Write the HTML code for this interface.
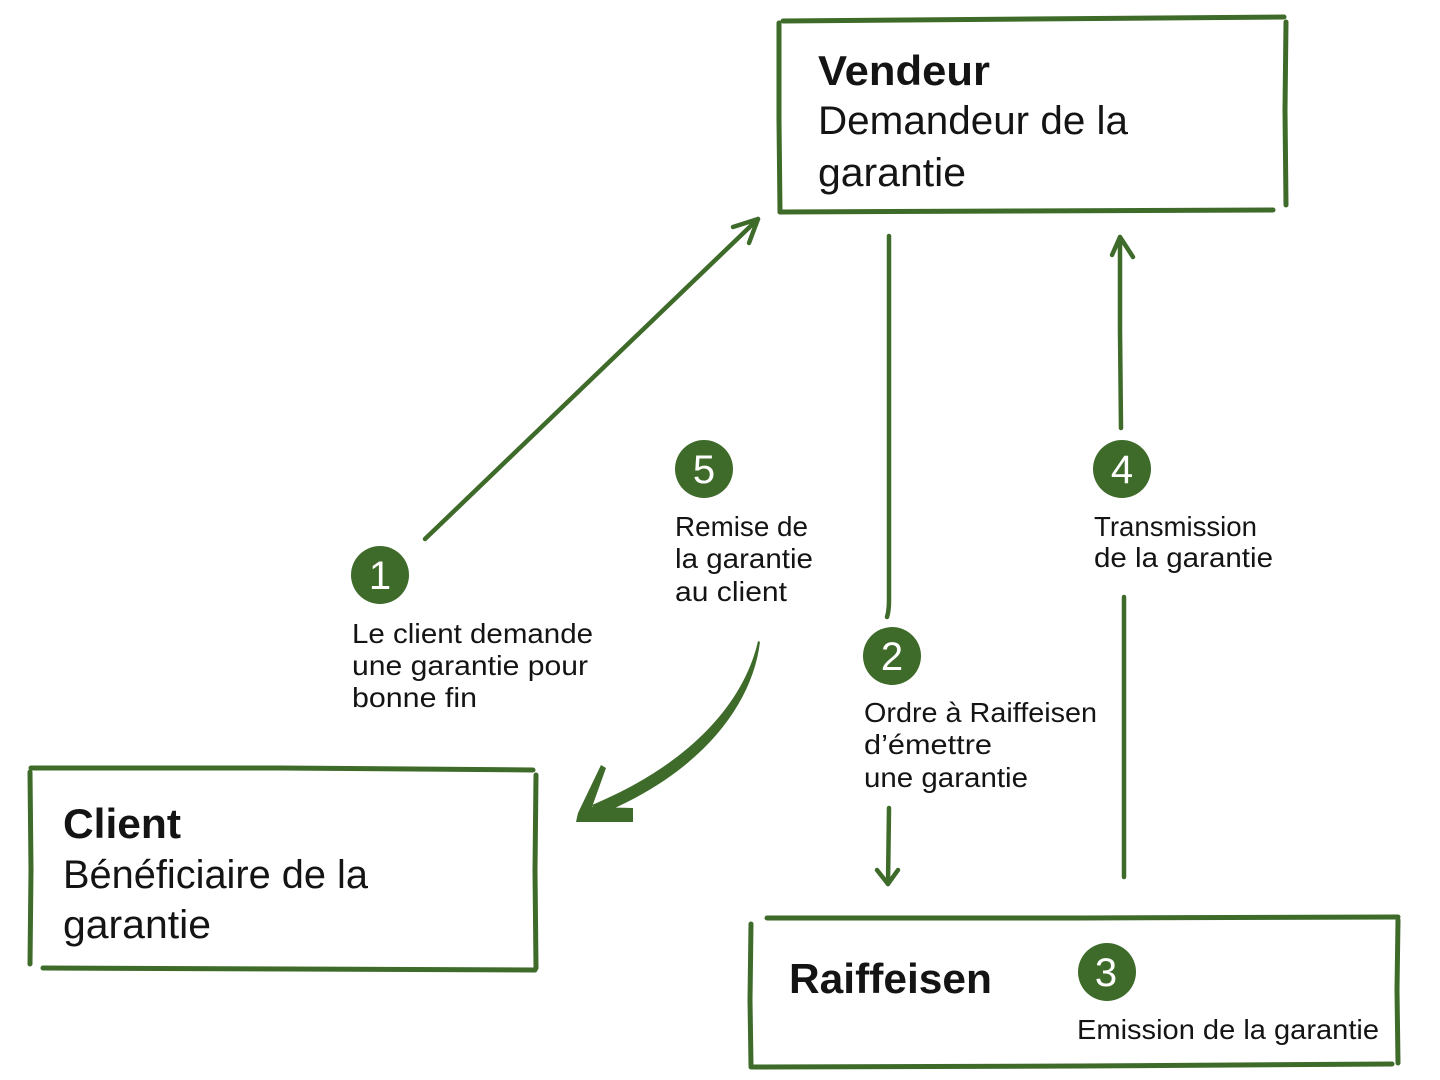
<!DOCTYPE html>
<html>
<head>
<meta charset="utf-8">
<style>
  html, body { margin: 0; padding: 0; background: #ffffff; }
  body { width: 1440px; height: 1080px; overflow: hidden; }
  svg { display: block; }
  .t { font-family: "Liberation Sans", "DejaVu Sans", sans-serif; fill: #141414; }
  .b { font-weight: bold; font-size: 42px; }
  .s { font-size: 40px; }
  .l { font-size: 28px; }
  .n { font-family: "Liberation Sans", "DejaVu Sans", sans-serif; fill: #ffffff; font-size: 40px; text-anchor: middle; }
  .ln { stroke: #3e6b2a; stroke-width: 5; fill: none; stroke-linecap: round; stroke-linejoin: round; }
  .cn { stroke: #3e6b2a; stroke-width: 4.5; fill: none; stroke-linecap: round; stroke-linejoin: round; }
</style>
</head>
<body>
<svg width="1440" height="1080" viewBox="0 0 1440 1080" xmlns="http://www.w3.org/2000/svg">
  <rect width="1440" height="1080" fill="#ffffff"/>

  <!-- Vendeur box -->
  <path class="ln" d="M783,21 L1030,19 L1284,17"/>
  <path class="ln" d="M779,23 L779,120 L780,212"/>
  <path class="ln" d="M1286,22 L1285,110 L1286,205"/>
  <path class="ln" d="M780,212 L1020,211 L1273,210"/>
  <text class="t b" x="818" y="85" textLength="172" lengthAdjust="spacingAndGlyphs">Vendeur</text>
  <text class="t s" x="818" y="134" textLength="310" lengthAdjust="spacingAndGlyphs">Demandeur de la</text>
  <text class="t s" x="818" y="186" textLength="148" lengthAdjust="spacingAndGlyphs">garantie</text>

  <!-- Client box -->
  <path class="ln" d="M31,768 L280,768 L533,770"/>
  <path class="ln" d="M30,772 L31,870 L30,964"/>
  <path class="ln" d="M536,775 L535,870 L536,968"/>
  <path class="ln" d="M43,968 L290,969 L535,970"/>
  <text class="t b" x="63" y="838" textLength="118" lengthAdjust="spacingAndGlyphs">Client</text>
  <text class="t s" x="63" y="888" textLength="305" lengthAdjust="spacingAndGlyphs">Bénéficiaire de la</text>
  <text class="t s" x="63" y="938" textLength="148" lengthAdjust="spacingAndGlyphs">garantie</text>

  <!-- Raiffeisen box -->
  <path class="ln" d="M767,918 L1080,918 L1398,917"/>
  <path class="ln" d="M751,924 L750,1000 L751,1065"/>
  <path class="ln" d="M1398,920 L1397,990 L1398,1063"/>
  <path class="ln" d="M751,1067 L1080,1066 L1392,1064"/>
  <text class="t b" x="789" y="993" textLength="203" lengthAdjust="spacingAndGlyphs">Raiffeisen</text>
  <circle cx="1107" cy="972" r="29" fill="#3e6b2a"/>
  <text class="n" x="1106" y="986">3</text>
  <text class="t l" x="1077" y="1039" textLength="302" lengthAdjust="spacingAndGlyphs">Emission de la garantie</text>

  <!-- Connector 1: diagonal arrow to Vendeur -->
  <path class="cn" d="M425,539 L758,219"/>
  <path class="cn" d="M733,227 L758,219 L749,243"/>

  <!-- Circle 1 + label -->
  <circle cx="380" cy="575" r="29" fill="#3e6b2a"/>
  <text class="n" x="380" y="589">1</text>
  <text class="t l" x="352" y="643" textLength="241" lengthAdjust="spacingAndGlyphs">Le client demande</text>
  <text class="t l" x="352" y="675" textLength="236" lengthAdjust="spacingAndGlyphs">une garantie pour</text>
  <text class="t l" x="352" y="707" textLength="125" lengthAdjust="spacingAndGlyphs">bonne fin</text>

  <!-- Circle 5 + label -->
  <circle cx="704" cy="469" r="29" fill="#3e6b2a"/>
  <text class="n" x="704" y="483">5</text>
  <text class="t l" x="675" y="536" textLength="133" lengthAdjust="spacingAndGlyphs">Remise de</text>
  <text class="t l" x="675" y="568" textLength="138" lengthAdjust="spacingAndGlyphs">la garantie</text>
  <text class="t l" x="675" y="601" textLength="112" lengthAdjust="spacingAndGlyphs">au client</text>

  <!-- Connector 5: curved thick arrow to Client -->
  <path fill="#3e6b2a" d="M758,641 C744,703 690,764 592,805 L596,816 C697,776 752,708 760,642 Z"/>
  <path fill="#3e6b2a" d="M601,765 L606,768 L592,807 L633,808 L633,822 L576,822 L578,813 Z"/>

  <!-- Connector 2: Vendeur down to Raiffeisen -->
  <path class="cn" d="M889,236 L889,600 Q889,611 887,617"/>
  <path class="cn" d="M889,808 L888,884"/>
  <path class="cn" d="M877,870 L888,884 L898,870"/>

  <!-- Circle 2 + label -->
  <circle cx="892" cy="656" r="29" fill="#3e6b2a"/>
  <text class="n" x="892" y="670">2</text>
  <text class="t l" x="864" y="722" textLength="233" lengthAdjust="spacingAndGlyphs">Ordre à Raiffeisen</text>
  <text class="t l" x="864" y="754" textLength="128" lengthAdjust="spacingAndGlyphs">d’émettre</text>
  <text class="t l" x="864" y="787" textLength="164" lengthAdjust="spacingAndGlyphs">une garantie</text>

  <!-- Connector 4: Raiffeisen up to Vendeur -->
  <path class="cn" d="M1124,877 L1124,700 L1124,597"/>
  <path class="cn" d="M1121,428 L1120,330 L1120,237"/>
  <path class="cn" d="M1112,255 L1120,237 L1133,257"/>

  <!-- Circle 4 + label -->
  <circle cx="1122" cy="469" r="29" fill="#3e6b2a"/>
  <text class="n" x="1122" y="483">4</text>
  <text class="t l" x="1094" y="536" textLength="163" lengthAdjust="spacingAndGlyphs">Transmission</text>
  <text class="t l" x="1094" y="567" textLength="179" lengthAdjust="spacingAndGlyphs">de la garantie</text>
</svg>
</body>
</html>
